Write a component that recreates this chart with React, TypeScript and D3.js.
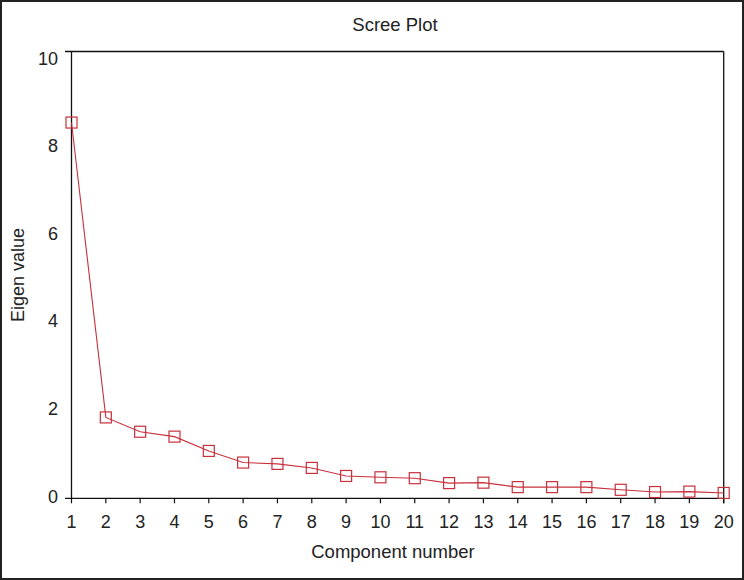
import React, { useEffect, useRef } from 'react';
import * as d3 from 'd3';

const components = [1, 2, 3, 4, 5, 6, 7, 8, 9, 10, 11, 12, 13, 14, 15, 16, 17, 18, 19, 20];
const eigenValues = [8.41, 1.81, 1.49, 1.38, 1.06, 0.8, 0.77, 0.68, 0.5, 0.47, 0.45, 0.34, 0.35, 0.25, 0.25, 0.25, 0.19, 0.14, 0.15, 0.12];
const yTicks = [0, 2, 4, 6, 8, 10];

const W = 744;
const H = 580;

const App: React.FC = () => {
  const svgRef = useRef<SVGSVGElement>(null);

  useEffect(() => {
    if (!svgRef.current) return;
    const svg = d3.select(svgRef.current);
    svg.selectAll('*').remove();

    const font = "'Liberation Sans', Arial, sans-serif";
    const red = '#c8303c';
    const margin = { top: 51.5, right: 20.3, bottom: 81.7, left: 71.5 };

    const x = d3.scaleLinear().domain([1, 20]).range([margin.left, W - margin.right]);
    const y = d3.scaleLinear().domain([0, 10]).range([H - margin.bottom, margin.top]);
    // the original's tick labels sit on a slightly tighter spacing than the axis
    const yLabel = d3.scaleLinear().domain([0, 10]).range([496, 58]);

    // outer frame
    svg.append('rect')
      .attr('x', 1).attr('y', 1)
      .attr('width', W - 2).attr('height', H - 2)
      .attr('fill', 'white')
      .attr('stroke', '#222').attr('stroke-width', 2);

    // plot frame
    const x0 = x(1), x1 = x(20), yb = y(0), yt = y(10);
    const frame = svg.append('g').attr('stroke', '#111').attr('stroke-width', 1.3).attr('fill', 'none');
    frame.append('line').attr('x1', 65).attr('x2', x1).attr('y1', yt).attr('y2', yt);
    frame.append('line').attr('x1', 65).attr('x2', x1).attr('y1', yb).attr('y2', yb);
    frame.append('line').attr('x1', x0).attr('x2', x0).attr('y1', yt).attr('y2', yb);
    frame.append('line').attr('x1', x1).attr('x2', x1).attr('y1', yt).attr('y2', yb + 5);

    // x ticks
    const xAxis = svg.append('g');
    xAxis.selectAll('line')
      .data(components)
      .enter().append('line')
      .attr('x1', d => x(d)).attr('x2', d => x(d))
      .attr('y1', yb).attr('y2', yb + 5)
      .attr('stroke', '#111').attr('stroke-width', 1.2);
    xAxis.selectAll('text')
      .data(components)
      .enter().append('text')
      .attr('x', d => x(d))
      .attr('y', yb + 29.5)
      .attr('text-anchor', 'middle')
      .style('font-family', font)
      .style('font-size', '18px')
      .attr('fill', '#222')
      .text(d => d);

    // y tick labels
    svg.append('g').selectAll('text')
      .data(yTicks)
      .enter().append('text')
      .attr('x', 58)
      .attr('y', d => yLabel(d) + 6.5)
      .attr('text-anchor', 'end')
      .style('font-family', font)
      .style('font-size', '18px')
      .attr('fill', '#222')
      .text(d => d);

    // line
    const pts = components.map((c, i) => [c, eigenValues[i]] as [number, number]);
    const line = d3.line<[number, number]>().x(d => x(d[0])).y(d => y(d[1]));
    svg.append('path')
      .datum(pts)
      .attr('d', line)
      .attr('fill', 'none')
      .attr('stroke', red)
      .attr('stroke-width', 1.1);

    // markers
    const s = 11;
    svg.append('g').selectAll('rect')
      .data(pts)
      .enter().append('rect')
      .attr('x', d => x(d[0]) - s / 2)
      .attr('y', d => y(d[1]) - s / 2)
      .attr('width', s).attr('height', s)
      .attr('fill', 'none')
      .attr('stroke', red)
      .attr('stroke-width', 1.2);

    // titles
    svg.append('text')
      .attr('x', 395).attr('y', 31)
      .attr('text-anchor', 'middle')
      .style('font-family', font).style('font-size', '18.5px')
      .attr('fill', '#222')
      .text('Scree Plot');

    svg.append('text')
      .attr('x', 393).attr('y', 558)
      .attr('text-anchor', 'middle')
      .style('font-family', font).style('font-size', '18.5px')
      .attr('fill', '#222')
      .text('Component number');

    svg.append('text')
      .attr('transform', 'translate(24, 275) rotate(-90)')
      .attr('text-anchor', 'middle')
      .style('font-family', font).style('font-size', '18px')
      .attr('fill', '#222')
      .text('Eigen value');
  }, []);

  return (
    <svg
      ref={svgRef}
      width={W}
      height={H}
      style={{ position: 'absolute', top: 0, left: 0, background: 'white' }}
    />
  );
};

export default App;
